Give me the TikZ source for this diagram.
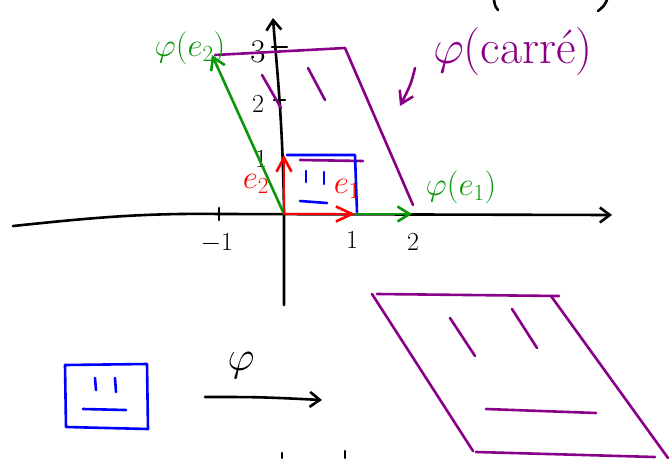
\RequirePackage{fix-cm}
\documentclass[tikz,border=0pt]{standalone}
\definecolor{pgreen}{HTML}{0B960B}
\definecolor{ppurple}{HTML}{880088}
\definecolor{pblue}{HTML}{0000FF}
\definecolor{pred}{HTML}{FF0000}
\usetikzlibrary{arrows.meta,calc}
\tikzset{
  ink/.style={line width=2.6pt,line cap=round,line join=round},
  ax/.style={ink,black},
  bl/.style={ink,pblue},
  pu/.style={ink,ppurple},
  gr/.style={ink,pgreen},
  rd/.style={ink,pred},
  vtip/.style={-{Straight Barb[length=#1,width=15pt]}},
  num/.style={font=\fontsize{26}{28}\selectfont,inner sep=0pt},
  hand/.style={font=\fontsize{33}{35}\selectfont,inner sep=0pt}
}

\begin{document}
\begin{tikzpicture}[x=1pt,y=-1pt]
    \useasboundingbox (0,0) rectangle (672,458);
    % axes
    \coordinate (O) at (284,214);
    \coordinate (xl) at (13,226);
    \coordinate (xr) at (612,215);
    \coordinate (yb) at (284,305);
    \coordinate (yt) at (273,18);
    \draw[ax,vtip=10pt] (xl) .. controls (90,218) and (140,213) .. (220,214) -- (xr);
    \draw[ax,vtip=10pt] (yb) -- (O) .. controls (283,120) and (276,60) .. (yt);
    \draw[ax] (219,208) -- (219,220);
    \draw[ax] (272,47) -- (287,47);
    \draw[ax] (274,100) -- (285,100);
    \node[num] (xm1) at (217,243) {$-1$};
    \node[num] (x1) at (352,240) {$1$};
    \node[num] (x2) at (413,242) {$2$};
    \node[num,font=\fontsize{33}{35}\selectfont] (y3) at (258,52) {$3$};
    \node[num] (y2) at (258,104) {$2$};
    \node[num] (y1) at (261,159) {$1$};
    % image of the square
    \coordinate (ptl) at (215,55);
    \coordinate (ptr) at (345,48);
    \coordinate (pbr) at (413,205);
    \draw[pu] (ptl) -- (ptr);
    \draw[pu] (ptr) -- (pbr);
    \draw[pu] (262,75) -- (281,108);
    \draw[pu] (308,68) -- (325,100);
    \draw[pu] (300,160) -- (363,161);
    % unit square
    \draw[bl] (287,155) -- (355,155) -- (357,212);
    \draw[bl] (306,171) -- (306,182);
    \draw[bl] (324,172) -- (324,184);
    \draw[bl] (300,201) -- (327,203);
    % basis vectors
    \coordinate (e1) at (355,214);
    \coordinate (e2) at (284,155);
    \coordinate (fe1) at (412,214);
    \coordinate (fe2) at (212,55);
    \draw[gr,vtip=12pt] (O) -- (fe1);
    \draw[gr,vtip=12pt] (O) -- (fe2);
    \draw[rd,vtip=16pt] (O) -- (e1);
    \draw[rd,vtip=14pt] (O) -- (e2);
    \node[hand,text=pred] (le1) at (347,189) {$e_1$};
    \node[hand,text=pred] (le2) at (256,184) {$e_2$};
    \node[hand,text=pgreen] (lfe1) at (461,187) {$\varphi(e_1)$};
    \node[hand,text=pgreen] (lfe2) at (190,48) {$\varphi(e_2)$};
    \node[font=\fontsize{48}{50}\selectfont,inner sep=0pt,text=ppurple] (carre) at (513,52) {$\varphi$(carré)};
    \coordinate (cs) at (415,68);
    \draw[pu,vtip=12pt] (cs) .. controls (411,84) .. (400,106);
    % bits of lines cut by the border
    \draw[ax] (494,0) .. controls (495,6) .. (498,10);
    \draw[ax] (607,0) .. controls (604,6) .. (598,11);
    \draw[ax] (282,453) -- (282,458);
    \draw[ax] (345,451) -- (345,458);
    % square, map, parallelogram
    \draw[bl] (65,365) -- (147,364) -- (148,429) -- (66,427) -- cycle;
    \draw[bl] (95,378) -- (96,390);
    \draw[bl] (115,378) -- (116,392);
    \draw[bl] (83,409) -- (126,410);
    \coordinate (ma) at (205,397);
    \coordinate (mb) at (322,400);
    \draw[ax,vtip=10pt] (ma) .. controls (260,397) .. (mb);
    \node[font=\fontsize{42}{44}\selectfont,inner sep=0pt] (phi) at (241,366) {$\varphi$};
    \coordinate (qa) at (372,294);
    \coordinate (qb) at (559,296);
    \coordinate (qc) at (668,458);
    \coordinate (qd) at (473,451);
    \draw[pu] (377,294) -- (qb);
    \draw[pu] (551,296) -- (qc);
    \draw[pu] (qa) -- (qd);
    \draw[pu] (476,452) -- (655,457);
    \draw[pu] (450,318) -- (475,356);
    \draw[pu] (512,309) -- (537,348);
    \draw[pu] (486,409) -- (596,413);
\end{tikzpicture}
\end{document}
